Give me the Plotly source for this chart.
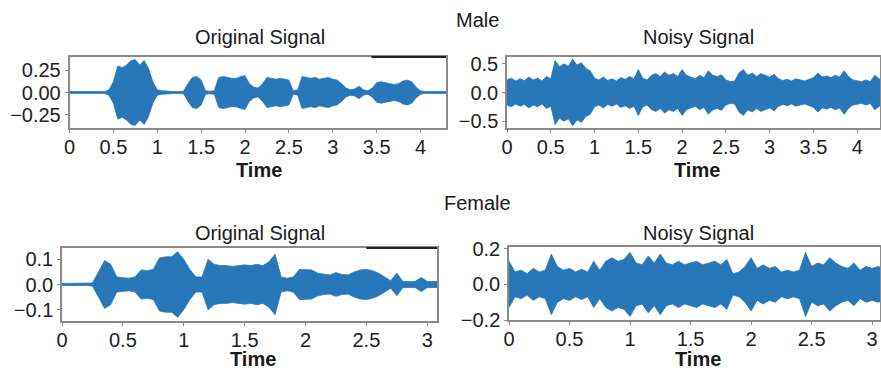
import numpy as np
import plotly.graph_objects as go

# ---- data: waveform envelopes (amplitude, sampled every 0.05 s) ----
step = 0.05
male_orig_amp = [.01, .01, .01, .01, .01, .01, .01, .01, .01, .03,
                 .12, .30, .28, .31, .36, .37, .31, .36, .27, .12,
                 .03, .02, .015, .015, .01, .01, .015, .10, .17, .18,
                 .14, .02, .015, .02, .17, .18, .17, .16, .16, .18,
                 .19, .10, .06, .05, .10, .17, .16, .15, .16, .15,
                 .14, .02, .03, .18, .17, .16, .17, .15, .16, .17,
                 .15, .14, .10, .05, .03, .04, .07, .03, .02, .05,
                 .11, .12, .11, .10, .09, .10, .13, .14, .12, .06,
                 .02, .01, .01, .01, .01, .01, .01]
male_noisy_amp = [.22, .25, .20, .24, .21, .27, .22, .25, .20, .28,
                  .24, .56, .45, .50, .46, .58, .48, .52, .42, .38,
                  .25, .22, .27, .21, .24, .20, .26, .23, .28, .24,
                  .40, .25, .22, .30, .33, .28, .36, .30, .33, .28,
                  .40, .30, .27, .24, .30, .26, .38, .30, .28, .31,
                  .22, .19, .20, .34, .40, .30, .34, .28, .33, .30,
                  .27, .32, .24, .21, .23, .20, .24, .22, .20, .23,
                  .26, .34, .27, .29, .26, .30, .27, .38, .28, .22,
                  .20, .19, .22, .19, .30, .24, .22]
female_orig_amp = [.004, .004, .004, .004, .004, .006, .05, .095, .08, .03,
                   .027, .025, .03, .058, .055, .06, .105, .11, .11, .13,
                   .10, .06, .03, .03, .10, .08, .075, .075, .072, .075,
                   .078, .075, .08, .075, .09, .12, .03, .025, .03, .06,
                   .06, .058, .045, .04, .038, .047, .04, .038, .05, .058,
                   .06, .055, .045, .03, .015, .045, .012, .012, .012, .028,
                   .012, .012, .012]
female_noisy_amp = [.13, .07, .08, .06, .09, .07, .08, .17, .10, .08,
                    .09, .07, .085, .07, .13, .08, .13, .15, .13, .14,
                    .18, .12, .11, .16, .12, .17, .12, .11, .13, .11,
                    .12, .13, .11, .12, .13, .11, .14, .06, .07, .10,
                    .15, .09, .11, .09, .10, .07, .08, .07, .08, .18,
                    .10, .12, .11, .15, .12, .10, .09, .12, .08, .10,
                    .09, .10, .09]

x_ticks_male = [0, 0.5, 1, 1.5, 2, 2.5, 3, 3.5, 4]
x_labels_male = ["0", "0.5", "1", "1.5", "2", "2.5", "3", "3.5", "4"]
x_ticks_female = [0, 0.5, 1, 1.5, 2, 2.5, 3]
x_labels_female = ["0", "0.5", "1", "1.5", "2", "2.5", "3"]
y_ticks = {
    1: ([0.25, 0, -0.25], ["0.25", "0.00", "\u22120.25"]),
    2: ([0.5, 0, -0.5], ["0.5", "0.0", "\u22120.5"]),
    3: ([0.1, 0, -0.1], ["0.1", "0.0", "\u22120.1"]),
    4: ([0.2, 0, -0.2], ["0.2", "0.0", "\u22120.2"]),
}

BLUE = "#2877b8"
FONT = "Liberation Sans, Arial, sans-serif"
W, H = 881, 370

fig = go.Figure()

def add_wave(amp, idx):
    amp = np.array(amp)
    t = np.round(np.arange(len(amp)) * step, 3)
    xs = np.concatenate([t, t[::-1]])
    ys = np.concatenate([amp, -amp[::-1]])
    fig.add_trace(go.Scatter(x=xs, y=ys, mode="lines", fill="toself",
                             fillcolor=BLUE, line=dict(color=BLUE, width=0.8),
                             xaxis=f"x{'' if idx == 1 else idx}",
                             yaxis=f"y{'' if idx == 1 else idx}",
                             hoverinfo="skip", showlegend=False, cliponaxis=True))

add_wave(male_orig_amp, 1)
add_wave(male_noisy_amp, 2)
add_wave(female_orig_amp, 3)
add_wave(female_noisy_amp, 4)

def px_x(a, b):
    return [a / W, min(b / W, 1.0)]

def px_y(top, bottom):
    return [1 - bottom / H, 1 - top / H]

panels = {
    1: dict(xd=px_x(69.5, 446), yd=px_y(57, 128), xr=[0, 4.29], yr=[-0.40, 0.40],
            xt=(x_ticks_male, x_labels_male)),
    2: dict(xd=px_x(507, 880), yd=px_y(57, 128), xr=[0, 4.26], yr=[-0.62, 0.62],
            xt=(x_ticks_male, x_labels_male)),
    3: dict(xd=px_x(62, 437), yd=px_y(248, 321), xr=[0, 3.08], yr=[-0.145, 0.145],
            xt=(x_ticks_female, x_labels_female)),
    4: dict(xd=px_x(509, 880), yd=px_y(247, 320), xr=[0, 3.065], yr=[-0.2, 0.21],
            xt=(x_ticks_female, x_labels_female)),
}

axis_common = dict(showline=True, mirror=True, linecolor="#8a8a8a", linewidth=1.5,
                   ticks="outside", ticklen=3, tickcolor="#8a8a8a", showgrid=False,
                   zeroline=False, automargin=False,
                   tickfont=dict(family=FONT, size=20, color="#222"))

layout = dict(width=W, height=H, margin=dict(l=0, r=0, t=0, b=0, pad=0, autoexpand=False),
              plot_bgcolor="white", paper_bgcolor="white", showlegend=False)
for i, p in panels.items():
    sx = "" if i == 1 else str(i)
    layout[f"xaxis{sx}"] = dict(domain=p["xd"], range=p["xr"], anchor=f"y{sx}",
                                tickvals=p["xt"][0], ticktext=p["xt"][1],
                                ticklabelstandoff=-3, **axis_common)
    layout[f"yaxis{sx}"] = dict(domain=p["yd"], range=p["yr"], anchor=f"x{sx}",
                                tickvals=y_ticks[i][0], ticktext=y_ticks[i][1], **axis_common)
fig.update_layout(**layout)

def txt(s, x, y, bold=False):
    fig.add_annotation(text=f"<b>{s}</b>" if bold else s, x=x / W, y=1 - y / H,
                       xref="paper", yref="paper", showarrow=False,
                       xanchor="center", yanchor="middle",
                       font=dict(family=FONT, size=20, color="#1a1a1a"))

txt("Male", 477, 20)
txt("Female", 477, 203)
txt("Original Signal", 260, 37)
txt("Noisy Signal", 698, 37)
txt("Original Signal", 260, 233)
txt("Noisy Signal", 698, 233)
txt("Time", 259, 170, bold=True)
txt("Time", 697, 170, bold=True)
txt("Time", 253, 359, bold=True)
txt("Time", 698, 359, bold=True)

# dark segments on the top frame of the original-signal panels
fig.add_shape(type="line", xref="x", yref="y domain", x0=3.44, x1=4.29, y0=1, y1=1,
              line=dict(color="#222", width=2))
fig.add_shape(type="line", xref="x3", yref="y3 domain", x0=2.5, x1=3.08, y0=1, y1=1,
              line=dict(color="#222", width=2))

fig.write_html("out.html",
               config={"displayModeBar": False},
               post_script=["document.body.style.margin='0';"
                            "document.body.style.overflow='hidden';"])
